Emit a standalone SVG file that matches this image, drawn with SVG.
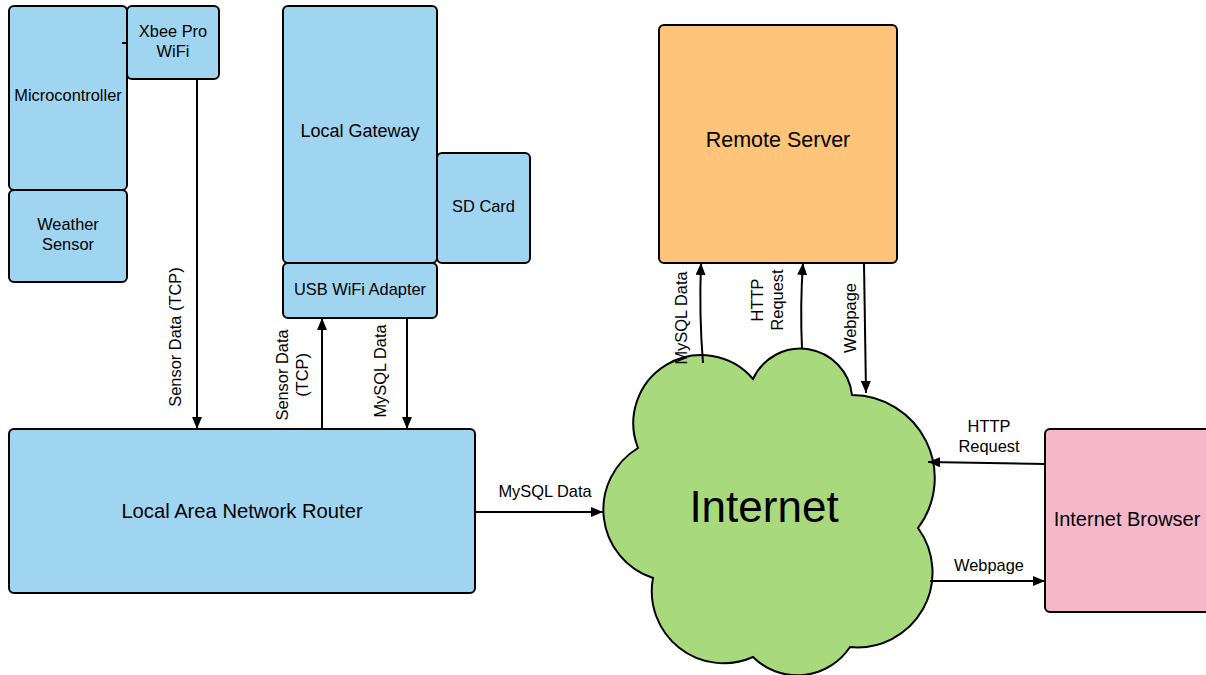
<svg xmlns="http://www.w3.org/2000/svg" width="1206" height="675" viewBox="0 0 1206 675">
<defs>
<marker id="arr" viewBox="0 0 12 10" refX="12" refY="5" markerWidth="12" markerHeight="10" markerUnits="userSpaceOnUse" orient="auto">
<path d="M0,0 L12,5 L0,10 Z" fill="#000"/>
</marker>
<style>
.n{stroke:#000;stroke-width:2}
.blue{fill:#A0D5F2}
.orange{fill:#FEC57A}
.green{fill:#A8DA7D}
.pink{fill:#F5B8CB}
text{font-family:"Liberation Sans",Arial,sans-serif;fill:#000;text-anchor:middle;dominant-baseline:central}
.t16{font-size:16.4px}
.c{fill:none;stroke:#000;stroke-width:2}
</style>
</defs>
<rect width="1206" height="675" fill="#fff"/>

<g id="microcontroller">
<rect class="n blue" x="9" y="6" width="118" height="184" rx="5"/>
<text class="t16" x="68" y="95">Microcontroller</text>
</g>
<g id="xbee">
<rect class="n blue" x="127" y="6" width="92" height="73" rx="5"/>
<text class="t16" x="173" y="31">Xbee Pro</text>
<text class="t16" x="173" y="51">WiFi</text>
</g>
<g id="weather-sensor">
<rect class="n blue" x="9" y="190" width="118" height="92" rx="5"/>
<text class="t16" x="68" y="224">Weather</text>
<text class="t16" x="68" y="244">Sensor</text>
</g>
<g id="local-gateway">
<rect class="n blue" x="283" y="6" width="154" height="257" rx="5"/>
<text x="360" y="131" font-size="18">Local Gateway</text>
</g>
<g id="sd-card">
<rect class="n blue" x="437" y="153" width="93" height="110" rx="5"/>
<text class="t16" x="483.5" y="206">SD Card</text>
</g>
<g id="usb-wifi">
<rect class="n blue" x="283" y="263" width="154" height="55" rx="5"/>
<text class="t16" x="360" y="289">USB WiFi Adapter</text>
</g>
<g id="router">
<rect class="n blue" x="9" y="429" width="466" height="164" rx="5"/>
<text x="242" y="511" font-size="20.2">Local Area Network Router</text>
</g>
<g id="remote-server">
<rect class="n orange" x="659" y="25" width="238" height="238" rx="5"/>
<text x="778" y="140" font-size="21.5">Remote Server</text>
</g>
<g id="internet">
<path class="n green" d="M638,448 A68,68 0 0 1 753,379 A52,52 0 0 1 852,395 A83,83 0 0 1 918,528 A75,75 0 0 1 850,647 A63,63 0 0 1 753,657 A72,72 0 0 1 653,578 A72,72 0 0 1 638,448 Z"/>
<text x="764" y="506" font-size="44">Internet</text>
</g>
<g id="browser">
<rect class="n pink" x="1045" y="429" width="170" height="183" rx="5"/>
<text x="1127" y="519" font-size="20">Internet Browser</text>
</g>

<g id="connectors">
<line class="c" x1="122" y1="43" x2="127" y2="43"/>
<line class="c" x1="197" y1="79" x2="197" y2="429" marker-end="url(#arr)"/>
<line class="c" x1="322" y1="429" x2="322" y2="318" marker-end="url(#arr)"/>
<line class="c" x1="407" y1="318" x2="407" y2="429" marker-end="url(#arr)"/>
<line class="c" x1="475" y1="512" x2="603" y2="512" marker-end="url(#arr)"/>
<path class="c" d="M703,363 Q699,315 701,263" marker-end="url(#arr)"/>
<path class="c" d="M802,349 Q800,305 803,263" marker-end="url(#arr)"/>
<line class="c" x1="864" y1="263" x2="866" y2="393" marker-end="url(#arr)"/>
<line class="c" x1="1045" y1="464" x2="928" y2="462" marker-end="url(#arr)"/>
<line class="c" x1="930" y1="581" x2="1045" y2="581" marker-end="url(#arr)"/>

<text class="t16" transform="translate(175 337) rotate(-90)">Sensor Data (TCP)</text>
<text class="t16" transform="translate(282 375) rotate(-90)">Sensor Data</text>
<text class="t16" transform="translate(302 375) rotate(-90)">(TCP)</text>
<text class="t16" transform="translate(380 371) rotate(-90)">MySQL Data</text>
<text class="t16" x="545" y="491">MySQL Data</text>
<text class="t16" transform="translate(681 318) rotate(-90)">MySQL Data</text>
<text class="t16" transform="translate(757 300) rotate(-90)">HTTP</text>
<text class="t16" transform="translate(777 300) rotate(-90)">Request</text>
<text class="t16" transform="translate(850 318) rotate(-90)">Webpage</text>
<text class="t16" x="989" y="426">HTTP</text>
<text class="t16" x="989" y="446">Request</text>
<text class="t16" x="989" y="565">Webpage</text>
</g>
</svg>
